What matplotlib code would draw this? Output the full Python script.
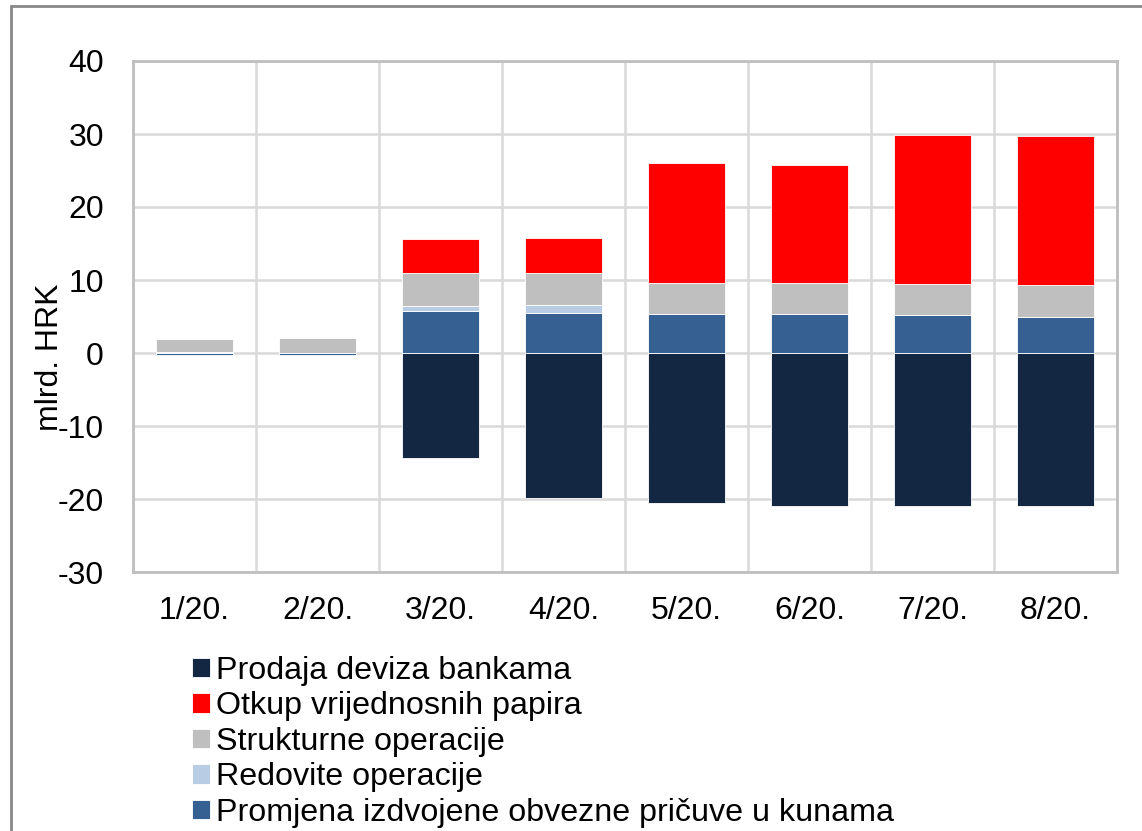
import matplotlib.pyplot as plt
import numpy as np
from matplotlib.patches import Rectangle

plt.rcParams['font.family'] = ['Liberation Sans', 'DejaVu Sans']
plt.rcParams['axes.unicode_minus'] = False

months = ['1/20.', '2/20.', '3/20.', '4/20.', '5/20.', '6/20.', '7/20.', '8/20.']

# mlrd. HRK
prodaja = [0, 0, -14.4, -19.8, -20.6, -20.9, -20.9, -20.9]
promjena = [-0.3, -0.3, 5.8, 5.5, 5.4, 5.4, 5.2, 5.0]
redovite = [0.2, 0, 0.6, 1.1, 0, 0, 0, 0]
strukturne = [1.7, 2.0, 4.5, 4.3, 4.2, 4.2, 4.25, 4.3]
otkup = [0, 0, 4.7, 4.85, 16.4, 16.2, 20.45, 20.4]

names = ['Prodaja deviza bankama', 'Otkup vrijednosnih papira', 'Strukturne operacije',
         'Redovite operacije', 'Promjena izdvojene obvezne pričuve u kunama']
colors = {'Prodaja deviza bankama': '#132743',
          'Otkup vrijednosnih papira': '#FF0000',
          'Strukturne operacije': '#BFBFBF',
          'Redovite operacije': '#B8CCE4',
          'Promjena izdvojene obvezne pričuve u kunama': '#376092'}

fig = plt.figure(figsize=(11.42, 8.31), dpi=100)
ax = fig.add_axes([133/1142, 1 - 572/831, (1117 - 133)/1142, (572 - 61)/831])

x = np.arange(len(months))
# stacking order in the chart
stack = [(names[0], prodaja), (names[4], promjena), (names[3], redovite),
         (names[2], strukturne), (names[1], otkup)]
pos = np.zeros(len(months))
neg = np.zeros(len(months))
bars = {}
for name, vals in stack:
    v = np.array(vals, dtype=float)
    bottom = np.where(v >= 0, pos, neg)
    bars[name] = ax.bar(x, v, 0.62, bottom=bottom, color=colors[name],
                        edgecolor='white', linewidth=0.6, zorder=3)
    pos = pos + np.where(v >= 0, v, 0)
    neg = neg + np.where(v < 0, v, 0)

ax.set_xlim(-0.5, len(months) - 0.5)
ax.set_ylim(-30, 40)
ax.set_yticks(range(-30, 41, 10))
ax.set_xticks(x)
ax.set_xticklabels(months)
ax.set_xticks(np.arange(len(months) + 1) - 0.5, minor=True)
ax.tick_params(axis='both', which='both', length=0, labelsize=23)
ax.tick_params(axis='y', pad=21)
ax.tick_params(axis='x', pad=17)
ax.grid(axis='y', which='major', color='#D9D9D9', linewidth=1.8, zorder=0)
ax.grid(axis='x', which='minor', color='#D9D9D9', linewidth=1.8, zorder=0)
for s in ax.spines.values():
    s.set_color('#BFBFBF')
    s.set_linewidth(2)
ax.set_ylabel('mlrd. HRK', fontsize=23)
ax.yaxis.set_label_coords(-0.069, 0.42)

handles = [bars[n] for n in names]
fig.legend(handles, names, loc='upper left', bbox_to_anchor=(192/1142, 1 - 656/831),
           frameon=False, fontsize=23.2, handlelength=0.55, handleheight=0.55,
           handletextpad=0.2, labelspacing=0.17, borderaxespad=0, borderpad=0)

fig.patches.append(Rectangle((11/1142, -0.1), 1.2, 1.1 - 6/831, transform=fig.transFigure,
                             fill=False, edgecolor='#888888', linewidth=2))

fig.savefig('out.png', dpi=100)
